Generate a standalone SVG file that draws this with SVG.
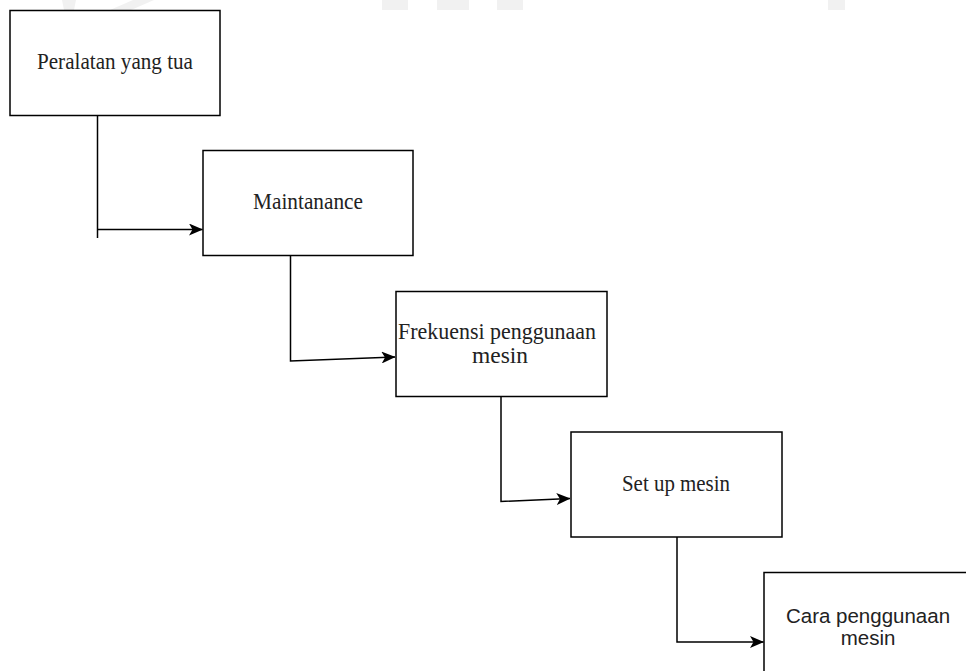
<svg xmlns="http://www.w3.org/2000/svg" width="966" height="671" viewBox="0 0 966 671">
<style>
.box{fill:#fff;stroke:#000;stroke-width:1.5}
.serif{font-family:"Liberation Serif","Times New Roman",serif;font-size:23px;fill:#222;text-anchor:middle}
.sans{font-family:"Liberation Sans",Arial,sans-serif;font-size:20.5px;fill:#222;text-anchor:middle}
.edge{fill:none;stroke:#000;stroke-width:1.5}
.wm{fill:#f1f1f1}
</style>
<defs>
<marker id="arr" viewBox="0 0 14 12" refX="13.5" refY="6" markerWidth="14" markerHeight="12" markerUnits="userSpaceOnUse" orient="auto">
<path d="M0,0 L14,6 L0,12 L3.5,6 Z" fill="#000"/>
</marker>
</defs>
<rect width="966" height="671" fill="#fff"/>
<g id="watermark">
<polygon class="wm" points="62,0 76,0 74,10 64,10"/>
<polygon class="wm" points="133,0 154,0 131,10 110,10"/>
<rect class="wm" x="382" y="0" width="26" height="10"/>
<rect class="wm" x="437" y="0" width="32" height="10"/>
<rect class="wm" x="497" y="0" width="26" height="10"/>
<rect class="wm" x="828" y="0" width="17" height="10"/>
</g>
<g id="connectors">
<path class="edge" d="M97.5,116 V238"/>
<path class="edge" d="M97.5,229.5 H202.5" marker-end="url(#arr)"/>
<path class="edge" d="M290.5,256 V361 L395,357" marker-end="url(#arr)"/>
<path class="edge" d="M501,397 V501.5 L570,498.5" marker-end="url(#arr)"/>
<path class="edge" d="M677,537 V642 H763.5" marker-end="url(#arr)"/>
</g>
<g id="node1">
<rect class="box" x="10" y="10.5" width="210" height="105"/>
<text class="serif" x="115" y="69" textLength="156" lengthAdjust="spacingAndGlyphs">Peralatan yang tua</text>
</g>
<g id="node2">
<rect class="box" x="203" y="150.5" width="210" height="105"/>
<text class="serif" x="308" y="208.5" textLength="110" lengthAdjust="spacingAndGlyphs">Maintanance</text>
</g>
<g id="node3">
<rect class="box" x="396" y="291.5" width="211" height="105"/>
<text class="serif" x="497" y="339" textLength="198" lengthAdjust="spacingAndGlyphs">Frekuensi penggunaan</text>
<text class="serif" x="500" y="363" textLength="56" lengthAdjust="spacingAndGlyphs">mesin</text>
</g>
<g id="node4">
<rect class="box" x="571" y="432" width="211" height="105"/>
<text class="serif" x="676" y="491" textLength="108" lengthAdjust="spacingAndGlyphs">Set up mesin</text>
</g>
<g id="node5">
<rect class="box" x="764" y="572.5" width="215" height="110"/>
<text class="sans" x="868" y="622.5">Cara penggunaan</text>
<text class="sans" x="868" y="645">mesin</text>
</g>
</svg>
